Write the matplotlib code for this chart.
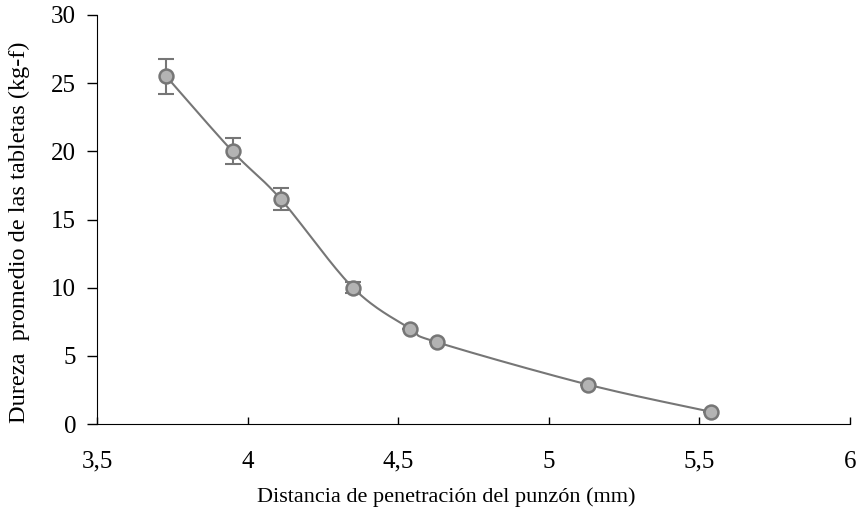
import numpy as np
import matplotlib.pyplot as plt

x_mm = [3.73, 3.95, 4.11, 4.35, 4.54, 4.63, 5.13, 5.54]
dureza = [25.5, 20.0, 16.5, 10.0, 7.0, 6.0, 2.9, 0.9]
err = [1.3, 0.95, 0.8, 0.4, 0.0, 0.0, 0.0, 0.0]
x_ticks = [3.5, 4, 4.5, 5, 5.5, 6]
x_labels = ['3,5', '4', '4,5', '5', '5,5', '6']
y_ticks = [0, 5, 10, 15, 20, 25, 30]


def smooth_line(xs, ys, n=30):
    # Excel-like smoothed line (Catmull-Rom style bezier)
    xs = np.asarray(xs, float)
    ys = np.asarray(ys, float)
    px, py = [], []
    k = len(xs)
    for i in range(k - 1):
        x0, y0 = (xs[i - 1], ys[i - 1]) if i > 0 else (xs[i], ys[i])
        x3, y3 = (xs[i + 2], ys[i + 2]) if i + 2 < k else (xs[i + 1], ys[i + 1])
        x1, y1, x2, y2 = xs[i], ys[i], xs[i + 1], ys[i + 1]
        c1x, c1y = x1 + (x2 - x0) / 6, y1 + (y2 - y0) / 6
        c2x, c2y = x2 - (x3 - x1) / 6, y2 - (y3 - y1) / 6
        t = np.linspace(0, 1, n)
        px.extend((1 - t) ** 3 * x1 + 3 * (1 - t) ** 2 * t * c1x + 3 * (1 - t) * t ** 2 * c2x + t ** 3 * x2)
        py.extend((1 - t) ** 3 * y1 + 3 * (1 - t) ** 2 * t * c1y + 3 * (1 - t) * t ** 2 * c2y + t ** 3 * y2)
    return px, py


plt.rcParams['font.family'] = ['Liberation Serif', 'DejaVu Serif']

fig = plt.figure(figsize=(8.62, 5.16), dpi=100)
ax = fig.add_axes([0.1125, 0.178, 0.8735, 0.793])

sx, sy = smooth_line(x_mm, dureza)
ax.plot(sx, sy, color='#767676', lw=1.5, zorder=2)
ax.errorbar(x_mm, dureza, yerr=err, fmt='none', ecolor='#767676', elinewidth=1.5,
            capsize=6, capthick=1.5, zorder=3)
ax.plot(x_mm, dureza, 'o', ms=10, mfc='#b3b3b3', mec='#767676', mew=1.8, zorder=4)

ax.set_xlim(3.5, 6)
ax.set_ylim(0, 30)
ax.set_xticks(x_ticks)
ax.set_xticklabels(x_labels)
ax.set_yticks(y_ticks)
ax.tick_params(axis='x', labelsize=18, direction='in', length=5, width=1, pad=19)
ax.tick_params(axis='y', labelsize=18, direction='out', length=7, width=1, pad=8)
for s in ['top', 'right']:
    ax.spines[s].set_visible(False)
ax.set_xlabel('Distancia de penetración del punzón (mm)', fontsize=16)
ax.set_ylabel('Dureza  promedio de las tabletas (kg-f)', fontsize=17.5)
ax.xaxis.label.set_va('center')
ax.yaxis.label.set_va('center')
ax.xaxis.set_label_coords(0.4635, -0.178)
ax.yaxis.set_label_coords(-0.1036, 0.469)

fig.savefig('out.png', dpi=100)
